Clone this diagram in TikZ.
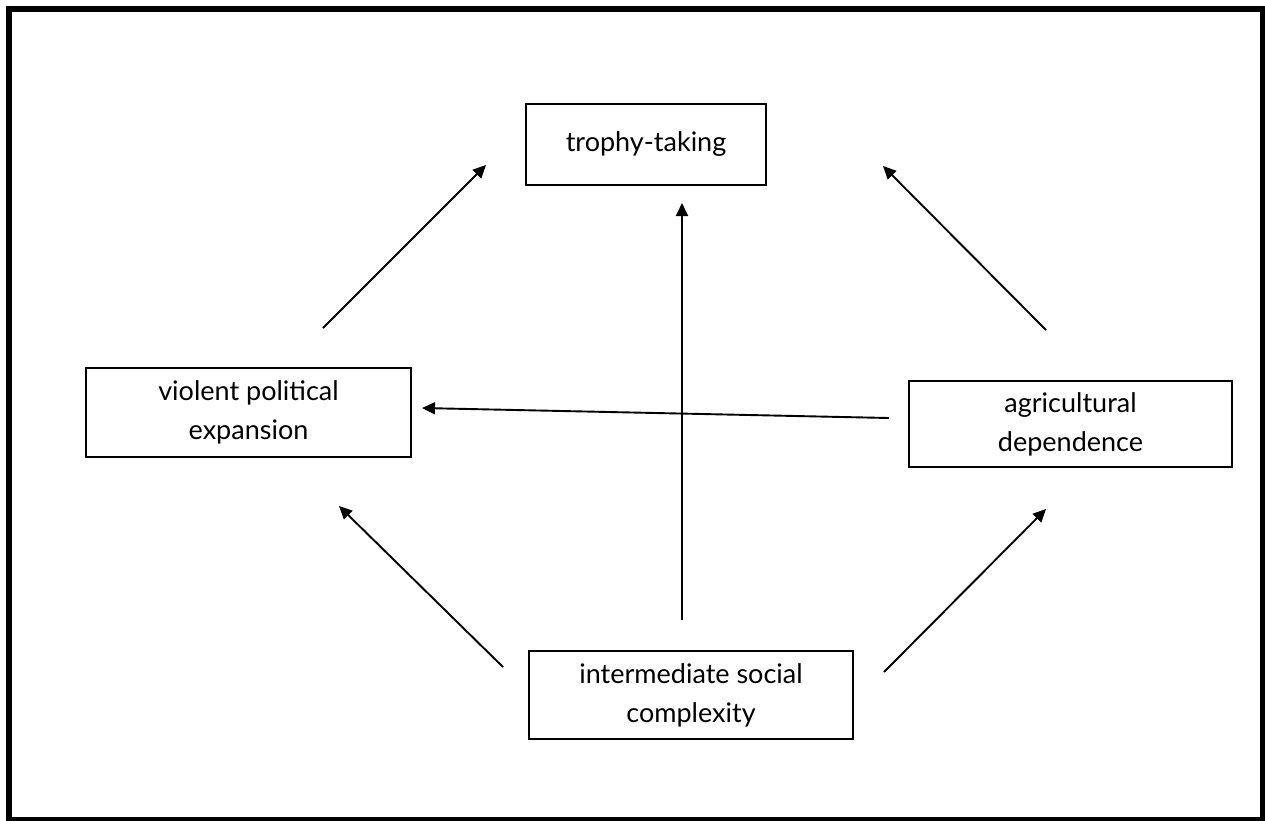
\documentclass[tikz,border=0pt]{standalone}
\usepackage{fontspec}
\setmainfont{Lato}
\usetikzlibrary{arrows.meta}
\begin{document}
\begin{tikzpicture}[x=1pt,y=-1pt,
  factor/.style={draw=black,line width=2pt,align=center,inner sep=0pt,
    font=\fontsize{27}{39}\selectfont},
  link/.style={line width=1.9pt,-{Triangle[length=13pt,width=12pt]}}]
  \useasboundingbox (0,0) rectangle (1265,820);
  % outer frame
  \draw[line width=6pt] (9,9) rectangle (1263,820);

  % factors
  \node[factor,minimum width=240pt,minimum height=81pt] (trophy) at (646,144.5) {trophy-taking};
  \node[factor,minimum width=325pt,minimum height=89pt] (violent) at (248.5,412.5) {violent political\\expansion};
  \node[factor,minimum width=323pt,minimum height=86pt] (agri) at (1070.5,424) {agricultural\\dependence};
  \node[factor,minimum width=324pt,minimum height=88pt] (inter) at (691,695) {intermediate social\\complexity};

  % connector end points
  \coordinate (vtS) at (323,328);   \coordinate (vtE) at (486,165);
  \coordinate (itS) at (682,620);   \coordinate (itE) at (682,203);
  \coordinate (atS) at (1046,330);  \coordinate (atE) at (883,166);
  \coordinate (avS) at (889,418);   \coordinate (avE) at (422,408);
  \coordinate (ivS) at (503,667);   \coordinate (ivE) at (339,506);
  \coordinate (iaS) at (884,672);   \coordinate (iaE) at (1046,509);

  % influences
  \draw[link] (vtS) -- (vtE);
  \draw[link] (itS) -- (itE);
  \draw[link] (atS) -- (atE);
  \draw[link] (avS) -- (avE);
  \draw[link] (ivS) -- (ivE);
  \draw[link] (iaS) -- (iaE);
\end{tikzpicture}
\end{document}
